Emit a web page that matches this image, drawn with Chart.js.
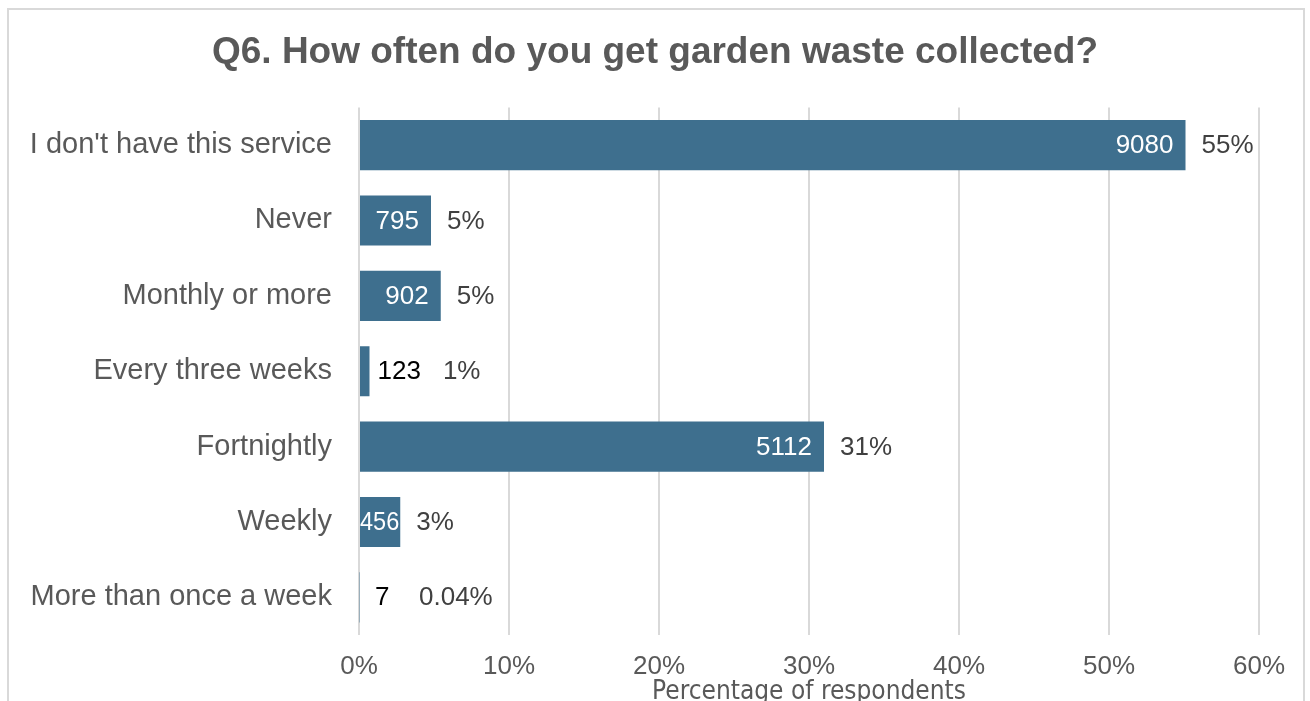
<!DOCTYPE html>
<html>
<head>
<meta charset="utf-8">
<script src="https://cdn.jsdelivr.net/npm/chart.js@4.4.1/dist/chart.umd.min.js"></script>
<style>
  html, body { margin: 0; padding: 0; background: #fff; overflow: hidden; }
  #wrap { width: 1310px; height: 701px; overflow: hidden; }
</style>
</head>
<body>
<div id="wrap"><canvas id="chart" width="1310" height="712" style="width:1310px;height:712px"></canvas></div>
<script>
// answers, top to bottom
const categories = ["I don't have this service", 'Never', 'Monthly or more', 'Every three weeks', 'Fortnightly', 'Weekly', 'More than once a week'];
const counts = [9080, 795, 902, 123, 5112, 456, 7];
// share of respondents (%)
const shares = [55.1, 4.8, 5.45, 0.7, 31.0, 2.75, 0.04];
const shareLabels = ['55%', '5%', '5%', '1%', '31%', '3%', '0.04%'];
const xTicks = [0, 10, 20, 30, 40, 50, 60];

const SANS = '"Liberation Sans", Arial, sans-serif';
const NARROW = '"Liberation Sans Narrow", "Arial Narrow", "DejaVu Sans Condensed", sans-serif';

const frame = {
    id: 'frame',
    beforeDraw(chart) {
        const ctx = chart.ctx;
        ctx.save();
        ctx.strokeStyle = '#d9d9d9';
        ctx.lineWidth = 2;
        ctx.strokeRect(8, 9, 1296, 800);
        ctx.restore();
    }
};

const barLabels = {
    id: 'barLabels',
    afterDatasetsDraw(chart) {
        const ctx = chart.ctx;
        const x0 = chart.scales.x.getPixelForValue(0);
        ctx.save();
        ctx.textBaseline = 'middle';
        ctx.font = '26px ' + SANS;
        chart.getDatasetMeta(0).data.forEach((bar, i) => {
            const x1 = bar.x, y = bar.y + 1, w = x1 - x0;
            const txt = String(counts[i]);
            const tw = ctx.measureText(txt).width;
            let pctX = x1 + 16;
            if (tw + 16 <= w) {
                ctx.fillStyle = '#fff';
                ctx.textAlign = 'right';
                ctx.fillText(txt, x1 - 12, y);
            } else if (w >= 30) {
                // squeeze into the bar
                ctx.fillStyle = '#fff';
                ctx.textAlign = 'center';
                ctx.fillText(txt, (x0 + x1) / 2, y, w - 2);
            } else {
                const cx = Math.max(x1 + 8, x0 + 16);
                ctx.fillStyle = '#000';
                ctx.textAlign = 'left';
                ctx.fillText(txt, cx, y);
                pctX = Math.max(pctX, cx + tw + 22, x0 + 60);
            }
            ctx.fillStyle = '#404040';
            ctx.textAlign = 'left';
            ctx.fillText(shareLabels[i], pctX, y);
        });
        ctx.restore();
    }
};

const ctx = document.getElementById('chart').getContext('2d');
const chart = new Chart(ctx, {
    type: 'bar',
    data: {
        labels: categories,
        datasets: [{
            data: shares,
            backgroundColor: '#3e6f8e',
            barPercentage: 0.665,
            categoryPercentage: 1
        }]
    },
    options: {
        indexAxis: 'y',
        responsive: false,
        animation: false,
        devicePixelRatio: 1,
        layout: { padding: 0 },
        plugins: {
            legend: { display: false },
            tooltip: { enabled: false },
            title: {
                display: true,
                text: 'Q6. How often do you get garden waste collected?',
                color: '#595959',
                font: { family: SANS, size: 37, weight: 'bold' },
                padding: { top: 31, bottom: 32 }
            }
        },
        scales: {
            x: {
                min: 0,
                max: 60,
                afterBuildTicks: s => { s.ticks = xTicks.map(v => ({ value: v })); },
                afterFit: s => { s.height = 77; },
                grid: { color: '#d9d9d9', lineWidth: 2, drawTicks: false },
                border: { display: false },
                ticks: {
                    padding: 16,
                    color: '#595959',
                    font: { family: SANS, size: 26 },
                    callback: v => v + '%'
                },
                title: {
                    display: true,
                    text: 'Percentage of respondents',
                    color: '#595959',
                    font: { family: NARROW, size: 26 },
                    padding: { top: 0, bottom: 4 }
                }
            },
            y: {
                afterFit: s => { s.width = 359; },
                grid: { display: false, drawTicks: false },
                border: { display: false },
                ticks: {
                    padding: 27,
                    color: '#595959',
                    font: { family: SANS, size: 29 }
                }
            },
            // empty strip on the right so the plot ends where the reference does
            yRight: {
                type: 'category',
                position: 'right',
                afterFit: s => { s.width = 51; },
                grid: { display: false, drawTicks: false },
                border: { display: false },
                ticks: { display: false }
            }
        }
    },
    plugins: [frame, barLabels]
});
</script>
</body>
</html>
